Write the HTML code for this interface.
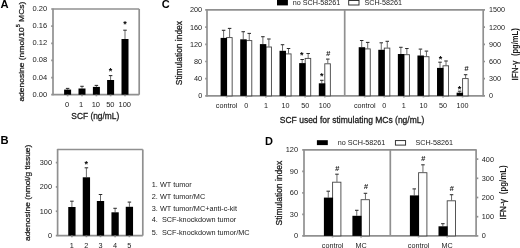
<!DOCTYPE html>
<html><head><meta charset="utf-8"><style>
html,body{margin:0;padding:0;background:#fff;}
svg{display:block;font-family:"Liberation Sans", sans-serif;-webkit-font-smoothing:antialiased;filter:grayscale(1);}
.t{stroke:#1a1a1a;stroke-width:0.28px;}
</style></head><body>
<svg width="520" height="248" viewBox="0 0 520 248">
<rect x="0" y="0" width="520" height="248" fill="#fff"/>
<text x="0.4" y="7.9" font-size="11.2" text-anchor="start" font-weight="bold" fill="#000">A</text>
<line x1="53.0" y1="9.0" x2="139.2" y2="9.0" stroke="#909090" stroke-width="1.7"/>
<line x1="139.2" y1="9.0" x2="139.2" y2="94.7" stroke="#909090" stroke-width="1.7"/>
<line x1="53.0" y1="8.4" x2="53.0" y2="95.3" stroke="#909090" stroke-width="1.7"/>
<line x1="53.0" y1="94.7" x2="139.2" y2="94.7" stroke="#909090" stroke-width="1.7"/>
<line x1="51.2" y1="94.7" x2="53.0" y2="94.7" stroke="#909090" stroke-width="1.7"/>
<text x="47.2" y="96.7" font-size="7.5" text-anchor="end" font-weight="normal" fill="#1a1a1a">0.00</text>
<line x1="51.2" y1="77.56" x2="53.0" y2="77.56" stroke="#909090" stroke-width="1.7"/>
<text x="47.2" y="79.56" font-size="7.5" text-anchor="end" font-weight="normal" fill="#1a1a1a">0.04</text>
<line x1="51.2" y1="60.42" x2="53.0" y2="60.42" stroke="#909090" stroke-width="1.7"/>
<text x="47.2" y="62.42" font-size="7.5" text-anchor="end" font-weight="normal" fill="#1a1a1a">0.08</text>
<line x1="51.2" y1="43.28" x2="53.0" y2="43.28" stroke="#909090" stroke-width="1.7"/>
<text x="47.2" y="45.28" font-size="7.5" text-anchor="end" font-weight="normal" fill="#1a1a1a">0.12</text>
<line x1="51.2" y1="26.14" x2="53.0" y2="26.14" stroke="#909090" stroke-width="1.7"/>
<text x="47.2" y="28.14" font-size="7.5" text-anchor="end" font-weight="normal" fill="#1a1a1a">0.16</text>
<line x1="51.2" y1="9.0" x2="53.0" y2="9.0" stroke="#909090" stroke-width="1.7"/>
<text x="47.2" y="11.0" font-size="7.5" text-anchor="end" font-weight="normal" fill="#1a1a1a">0.20</text>
<line x1="67.6" y1="89.6" x2="67.6" y2="88.7" stroke="#505050" stroke-width="0.85"/>
<line x1="65.85" y1="88.4" x2="69.35" y2="88.4" stroke="#2a2a2a" stroke-width="1.05"/>
<rect x="64.10" y="89.60" width="7.00" height="5.10" fill="#000"/>
<line x1="67.6" y1="94.7" x2="67.6" y2="96.3" stroke="#909090" stroke-width="1.7"/>
<line x1="82.0" y1="88.5" x2="82.0" y2="86.6" stroke="#505050" stroke-width="0.85"/>
<line x1="80.25" y1="86.3" x2="83.75" y2="86.3" stroke="#2a2a2a" stroke-width="1.05"/>
<rect x="78.50" y="88.50" width="7.00" height="6.20" fill="#000"/>
<line x1="82.0" y1="94.7" x2="82.0" y2="96.3" stroke="#909090" stroke-width="1.7"/>
<line x1="96.4" y1="86.9" x2="96.4" y2="85.7" stroke="#505050" stroke-width="0.85"/>
<line x1="94.65" y1="85.4" x2="98.15" y2="85.4" stroke="#2a2a2a" stroke-width="1.05"/>
<rect x="92.90" y="86.90" width="7.00" height="7.80" fill="#000"/>
<line x1="96.4" y1="94.7" x2="96.4" y2="96.3" stroke="#909090" stroke-width="1.7"/>
<line x1="110.6" y1="80.0" x2="110.6" y2="75.89999999999999" stroke="#505050" stroke-width="0.85"/>
<line x1="108.85" y1="75.6" x2="112.35" y2="75.6" stroke="#2a2a2a" stroke-width="1.05"/>
<rect x="107.10" y="80.00" width="7.00" height="14.70" fill="#000"/>
<line x1="110.6" y1="94.7" x2="110.6" y2="96.3" stroke="#909090" stroke-width="1.7"/>
<line x1="125.0" y1="39.0" x2="125.0" y2="30.5" stroke="#505050" stroke-width="0.85"/>
<line x1="123.25" y1="30.2" x2="126.75" y2="30.2" stroke="#2a2a2a" stroke-width="1.05"/>
<rect x="121.50" y="39.00" width="7.00" height="55.70" fill="#000"/>
<line x1="125.0" y1="94.7" x2="125.0" y2="96.3" stroke="#909090" stroke-width="1.7"/>
<text x="110.4" y="73.7" font-size="9.0" text-anchor="middle" font-weight="bold" fill="#000">*</text>
<text x="125.1" y="27.3" font-size="9.0" text-anchor="middle" font-weight="bold" fill="#000">*</text>
<text x="67.2" y="106.6" font-size="7.5" text-anchor="middle" font-weight="normal" fill="#1a1a1a">0</text>
<text x="81.0" y="106.6" font-size="7.5" text-anchor="middle" font-weight="normal" fill="#1a1a1a">1</text>
<text x="95.8" y="106.6" font-size="7.5" text-anchor="middle" font-weight="normal" fill="#1a1a1a">10</text>
<text x="110.3" y="106.6" font-size="7.5" text-anchor="middle" font-weight="normal" fill="#1a1a1a">50</text>
<text x="124.8" y="106.6" font-size="7.5" text-anchor="middle" font-weight="normal" fill="#1a1a1a">100</text>
<text x="95.3" y="118.5" font-size="8.4" text-anchor="middle" font-weight="normal" fill="#1a1a1a" class="t">SCF (ng/mL)</text>
<text class="t" transform="translate(24.3,51.65) rotate(-90) scale(1,0.9)" x="0" y="0" font-size="8.47" text-anchor="middle" font-weight="normal" fill="#1a1a1a">adenosine (nmol/10<tspan font-size="5.4" dy="-4.6">5</tspan><tspan dy="4.6"> MCs)</tspan></text>
<text x="0.6" y="144.1" font-size="11.2" text-anchor="start" font-weight="bold" fill="#000">B</text>
<line x1="57.6" y1="149.5" x2="142.8" y2="149.5" stroke="#909090" stroke-width="1.7"/>
<line x1="142.8" y1="149.5" x2="142.8" y2="235.6" stroke="#909090" stroke-width="1.7"/>
<line x1="57.6" y1="148.9" x2="57.6" y2="236.2" stroke="#909090" stroke-width="1.7"/>
<line x1="57.6" y1="235.6" x2="142.8" y2="235.6" stroke="#909090" stroke-width="1.7"/>
<line x1="55.800000000000004" y1="235.6" x2="57.6" y2="235.6" stroke="#909090" stroke-width="1.7"/>
<text x="52.0" y="238.1" font-size="7.3" text-anchor="end" font-weight="normal" fill="#1a1a1a">0</text>
<line x1="55.800000000000004" y1="211.26666666666665" x2="57.6" y2="211.26666666666665" stroke="#909090" stroke-width="1.7"/>
<text x="52.0" y="213.76666666666665" font-size="7.3" text-anchor="end" font-weight="normal" fill="#1a1a1a">100</text>
<line x1="55.800000000000004" y1="186.93333333333334" x2="57.6" y2="186.93333333333334" stroke="#909090" stroke-width="1.7"/>
<text x="52.0" y="189.43333333333334" font-size="7.3" text-anchor="end" font-weight="normal" fill="#1a1a1a">200</text>
<line x1="55.800000000000004" y1="162.6" x2="57.6" y2="162.6" stroke="#909090" stroke-width="1.7"/>
<text x="52.0" y="165.1" font-size="7.3" text-anchor="end" font-weight="normal" fill="#1a1a1a">300</text>
<line x1="71.9" y1="207.0" x2="71.9" y2="201.5" stroke="#505050" stroke-width="0.85"/>
<line x1="70.15" y1="201.2" x2="73.65" y2="201.2" stroke="#2a2a2a" stroke-width="1.05"/>
<rect x="68.25" y="207.00" width="7.30" height="28.60" fill="#000"/>
<line x1="71.9" y1="235.6" x2="71.9" y2="237.2" stroke="#909090" stroke-width="1.7"/>
<line x1="86.4" y1="177.3" x2="86.4" y2="168.10000000000002" stroke="#505050" stroke-width="0.85"/>
<line x1="84.65" y1="167.8" x2="88.15" y2="167.8" stroke="#2a2a2a" stroke-width="1.05"/>
<rect x="82.75" y="177.30" width="7.30" height="58.30" fill="#000"/>
<line x1="86.4" y1="235.6" x2="86.4" y2="237.2" stroke="#909090" stroke-width="1.7"/>
<line x1="100.5" y1="201.0" x2="100.5" y2="194.8" stroke="#505050" stroke-width="0.85"/>
<line x1="98.75" y1="194.5" x2="102.25" y2="194.5" stroke="#2a2a2a" stroke-width="1.05"/>
<rect x="96.85" y="201.00" width="7.30" height="34.60" fill="#000"/>
<line x1="100.5" y1="235.6" x2="100.5" y2="237.2" stroke="#909090" stroke-width="1.7"/>
<line x1="115.1" y1="212.3" x2="115.1" y2="208.60000000000002" stroke="#505050" stroke-width="0.85"/>
<line x1="113.35" y1="208.3" x2="116.85" y2="208.3" stroke="#2a2a2a" stroke-width="1.05"/>
<rect x="111.45" y="212.30" width="7.30" height="23.30" fill="#000"/>
<line x1="115.1" y1="235.6" x2="115.1" y2="237.2" stroke="#909090" stroke-width="1.7"/>
<line x1="129.4" y1="206.8" x2="129.4" y2="202.4" stroke="#505050" stroke-width="0.85"/>
<line x1="127.65" y1="202.1" x2="131.15" y2="202.1" stroke="#2a2a2a" stroke-width="1.05"/>
<rect x="125.75" y="206.80" width="7.30" height="28.80" fill="#000"/>
<line x1="129.4" y1="235.6" x2="129.4" y2="237.2" stroke="#909090" stroke-width="1.7"/>
<text x="86.3" y="166.9" font-size="9.0" text-anchor="middle" font-weight="bold" fill="#000">*</text>
<text x="71.9" y="247.6" font-size="7.3" text-anchor="middle" font-weight="normal" fill="#1a1a1a">1</text>
<text x="86.4" y="247.6" font-size="7.3" text-anchor="middle" font-weight="normal" fill="#1a1a1a">2</text>
<text x="100.5" y="247.6" font-size="7.3" text-anchor="middle" font-weight="normal" fill="#1a1a1a">3</text>
<text x="115.1" y="247.6" font-size="7.3" text-anchor="middle" font-weight="normal" fill="#1a1a1a">4</text>
<text x="129.4" y="247.6" font-size="7.3" text-anchor="middle" font-weight="normal" fill="#1a1a1a">5</text>
<text class="t" transform="translate(30.3,192.85) rotate(-90) scale(1,0.9)" x="0" y="0" font-size="8.42" text-anchor="middle" font-weight="normal" fill="#1a1a1a">adenosine (nmol/g tissue)</text>
<text x="151.8" y="186.79999999999998" font-size="7.3" text-anchor="start" font-weight="normal" fill="#1a1a1a">1. WT tumor</text>
<text x="151.8" y="198.9" font-size="7.3" text-anchor="start" font-weight="normal" fill="#1a1a1a">2. WT tumor/MC</text>
<text x="151.8" y="210.5" font-size="7.3" text-anchor="start" font-weight="normal" fill="#1a1a1a">3. WT tumor/MC+anti-c-kit</text>
<text x="151.8" y="222.29999999999998" font-size="7.3" text-anchor="start" font-weight="normal" fill="#1a1a1a">4.&#160;&#160;SCF-knockdown tumor</text>
<text x="151.8" y="235.2" font-size="7.3" text-anchor="start" font-weight="normal" fill="#1a1a1a">5.&#160;&#160;SCF-knockdown tumor/MC</text>
<text x="161.8" y="8.4" font-size="11.0" text-anchor="start" font-weight="bold" fill="#000">C</text>
<line x1="207.0" y1="9.9" x2="483.2" y2="9.9" stroke="#909090" stroke-width="1.7"/>
<line x1="344.7" y1="9.9" x2="344.7" y2="95.9" stroke="#909090" stroke-width="1.7"/>
<line x1="207.0" y1="9.3" x2="207.0" y2="96.5" stroke="#909090" stroke-width="1.7"/>
<line x1="483.2" y1="9.3" x2="483.2" y2="96.5" stroke="#909090" stroke-width="1.7"/>
<line x1="207.0" y1="95.9" x2="483.2" y2="95.9" stroke="#909090" stroke-width="1.7"/>
<line x1="205.2" y1="95.9" x2="207.0" y2="95.9" stroke="#909090" stroke-width="1.7"/>
<line x1="483.2" y1="95.9" x2="485.0" y2="95.9" stroke="#909090" stroke-width="1.7"/>
<text x="202.2" y="98.4" font-size="7.3" text-anchor="end" font-weight="normal" fill="#1a1a1a">0</text>
<text x="489.0" y="98.4" font-size="7.2" text-anchor="start" font-weight="normal" fill="#1a1a1a">0</text>
<line x1="205.2" y1="78.7" x2="207.0" y2="78.7" stroke="#909090" stroke-width="1.7"/>
<line x1="483.2" y1="78.7" x2="485.0" y2="78.7" stroke="#909090" stroke-width="1.7"/>
<text x="202.2" y="81.2" font-size="7.3" text-anchor="end" font-weight="normal" fill="#1a1a1a">40</text>
<text x="489.0" y="81.2" font-size="7.2" text-anchor="start" font-weight="normal" fill="#1a1a1a">300</text>
<line x1="205.2" y1="61.50000000000001" x2="207.0" y2="61.50000000000001" stroke="#909090" stroke-width="1.7"/>
<line x1="483.2" y1="61.50000000000001" x2="485.0" y2="61.50000000000001" stroke="#909090" stroke-width="1.7"/>
<text x="202.2" y="64.0" font-size="7.3" text-anchor="end" font-weight="normal" fill="#1a1a1a">80</text>
<text x="489.0" y="64.0" font-size="7.2" text-anchor="start" font-weight="normal" fill="#1a1a1a">600</text>
<line x1="205.2" y1="44.300000000000004" x2="207.0" y2="44.300000000000004" stroke="#909090" stroke-width="1.7"/>
<line x1="483.2" y1="44.300000000000004" x2="485.0" y2="44.300000000000004" stroke="#909090" stroke-width="1.7"/>
<text x="202.2" y="46.800000000000004" font-size="7.3" text-anchor="end" font-weight="normal" fill="#1a1a1a">120</text>
<text x="489.0" y="46.800000000000004" font-size="7.2" text-anchor="start" font-weight="normal" fill="#1a1a1a">900</text>
<line x1="205.2" y1="27.10000000000001" x2="207.0" y2="27.10000000000001" stroke="#909090" stroke-width="1.7"/>
<line x1="483.2" y1="27.10000000000001" x2="485.0" y2="27.10000000000001" stroke="#909090" stroke-width="1.7"/>
<text x="202.2" y="29.60000000000001" font-size="7.3" text-anchor="end" font-weight="normal" fill="#1a1a1a">160</text>
<text x="489.0" y="29.60000000000001" font-size="7.2" text-anchor="start" font-weight="normal" fill="#1a1a1a">1200</text>
<line x1="205.2" y1="9.900000000000006" x2="207.0" y2="9.900000000000006" stroke="#909090" stroke-width="1.7"/>
<line x1="483.2" y1="9.900000000000006" x2="485.0" y2="9.900000000000006" stroke="#909090" stroke-width="1.7"/>
<text x="202.2" y="12.400000000000006" font-size="7.3" text-anchor="end" font-weight="normal" fill="#1a1a1a">200</text>
<text x="489.0" y="12.400000000000006" font-size="7.2" text-anchor="start" font-weight="normal" fill="#1a1a1a">1500</text>
<rect x="277.00" y="0.00" width="10.90" height="5.40" fill="#000"/>
<text x="292.8" y="5.35" font-size="7.2" text-anchor="start" font-weight="normal" fill="#1a1a1a">no SCH-58261</text>
<rect x="348.70" y="0.50" width="10.30" height="4.50" fill="#fff" stroke="#222" stroke-width="0.9"/>
<text x="364.4" y="5.35" font-size="7.2" text-anchor="start" font-weight="normal" fill="#1a1a1a">SCH-58261</text>
<line x1="223.6" y1="37.9" x2="223.6" y2="30.6" stroke="#505050" stroke-width="0.85"/>
<line x1="221.85" y1="30.3" x2="225.35" y2="30.3" stroke="#2a2a2a" stroke-width="1.05"/>
<line x1="229.6" y1="37.3" x2="229.6" y2="28.7" stroke="#505050" stroke-width="0.85"/>
<line x1="227.85" y1="28.4" x2="231.35" y2="28.4" stroke="#2a2a2a" stroke-width="1.05"/>
<rect x="226.60" y="37.60" width="5.55" height="58.30" fill="#fff" stroke="#444" stroke-width="0.9"/>
<rect x="220.60" y="37.90" width="6.45" height="58.00" fill="#000"/>
<line x1="226.6" y1="95.9" x2="226.6" y2="97.4" stroke="#909090" stroke-width="1.7"/>
<line x1="243.24" y1="39.3" x2="243.24" y2="32.0" stroke="#505050" stroke-width="0.85"/>
<line x1="241.49" y1="31.7" x2="244.99" y2="31.7" stroke="#2a2a2a" stroke-width="1.05"/>
<line x1="249.24" y1="40.3" x2="249.24" y2="33.699999999999996" stroke="#505050" stroke-width="0.85"/>
<line x1="247.49" y1="33.4" x2="250.99" y2="33.4" stroke="#2a2a2a" stroke-width="1.05"/>
<rect x="246.24" y="40.60" width="5.55" height="55.30" fill="#fff" stroke="#444" stroke-width="0.9"/>
<rect x="240.24" y="39.30" width="6.45" height="56.60" fill="#000"/>
<line x1="246.24" y1="95.9" x2="246.24" y2="97.4" stroke="#909090" stroke-width="1.7"/>
<line x1="262.88" y1="44.1" x2="262.88" y2="37.0" stroke="#505050" stroke-width="0.85"/>
<line x1="261.13" y1="36.7" x2="264.63" y2="36.7" stroke="#2a2a2a" stroke-width="1.05"/>
<line x1="268.88" y1="46.7" x2="268.88" y2="39.3" stroke="#505050" stroke-width="0.85"/>
<line x1="267.13" y1="39.0" x2="270.63" y2="39.0" stroke="#2a2a2a" stroke-width="1.05"/>
<rect x="265.88" y="47.00" width="5.55" height="48.90" fill="#fff" stroke="#444" stroke-width="0.9"/>
<rect x="259.88" y="44.10" width="6.45" height="51.80" fill="#000"/>
<line x1="265.88" y1="95.9" x2="265.88" y2="97.4" stroke="#909090" stroke-width="1.7"/>
<line x1="282.52" y1="50.8" x2="282.52" y2="45.0" stroke="#505050" stroke-width="0.85"/>
<line x1="280.77" y1="44.7" x2="284.27" y2="44.7" stroke="#2a2a2a" stroke-width="1.05"/>
<line x1="288.52" y1="53.6" x2="288.52" y2="48.8" stroke="#505050" stroke-width="0.85"/>
<line x1="286.77" y1="48.5" x2="290.27" y2="48.5" stroke="#2a2a2a" stroke-width="1.05"/>
<rect x="285.52" y="53.90" width="5.55" height="42.00" fill="#fff" stroke="#444" stroke-width="0.9"/>
<rect x="279.52" y="50.80" width="6.45" height="45.10" fill="#000"/>
<line x1="285.52" y1="95.9" x2="285.52" y2="97.4" stroke="#909090" stroke-width="1.7"/>
<line x1="302.15999999999997" y1="63.1" x2="302.15999999999997" y2="59.8" stroke="#505050" stroke-width="0.85"/>
<line x1="300.40999999999997" y1="59.5" x2="303.90999999999997" y2="59.5" stroke="#2a2a2a" stroke-width="1.05"/>
<line x1="308.15999999999997" y1="58.1" x2="308.15999999999997" y2="53.8" stroke="#505050" stroke-width="0.85"/>
<line x1="306.40999999999997" y1="53.5" x2="309.90999999999997" y2="53.5" stroke="#2a2a2a" stroke-width="1.05"/>
<rect x="305.16" y="58.40" width="5.55" height="37.50" fill="#fff" stroke="#444" stroke-width="0.9"/>
<rect x="299.16" y="63.10" width="6.45" height="32.80" fill="#000"/>
<line x1="305.15999999999997" y1="95.9" x2="305.15999999999997" y2="97.4" stroke="#909090" stroke-width="1.7"/>
<line x1="321.8" y1="83.3" x2="321.8" y2="80.6" stroke="#505050" stroke-width="0.85"/>
<line x1="320.05" y1="80.3" x2="323.55" y2="80.3" stroke="#2a2a2a" stroke-width="1.05"/>
<line x1="327.8" y1="63.5" x2="327.8" y2="59.4" stroke="#505050" stroke-width="0.85"/>
<line x1="326.05" y1="59.1" x2="329.55" y2="59.1" stroke="#2a2a2a" stroke-width="1.05"/>
<rect x="324.80" y="63.80" width="5.55" height="32.10" fill="#fff" stroke="#444" stroke-width="0.9"/>
<rect x="318.80" y="83.30" width="6.45" height="12.60" fill="#000"/>
<line x1="324.8" y1="95.9" x2="324.8" y2="97.4" stroke="#909090" stroke-width="1.7"/>
<text x="226.6" y="107.8" font-size="7.2" text-anchor="middle" font-weight="normal" fill="#1a1a1a">control</text>
<text x="246.24" y="107.8" font-size="7.2" text-anchor="middle" font-weight="normal" fill="#1a1a1a">0</text>
<text x="265.88" y="107.8" font-size="7.2" text-anchor="middle" font-weight="normal" fill="#1a1a1a">1</text>
<text x="285.52" y="107.8" font-size="7.2" text-anchor="middle" font-weight="normal" fill="#1a1a1a">10</text>
<text x="305.15999999999997" y="107.8" font-size="7.2" text-anchor="middle" font-weight="normal" fill="#1a1a1a">50</text>
<text x="324.8" y="107.8" font-size="7.2" text-anchor="middle" font-weight="normal" fill="#1a1a1a">100</text>
<line x1="361.7" y1="47.2" x2="361.7" y2="40.8" stroke="#505050" stroke-width="0.85"/>
<line x1="359.95" y1="40.5" x2="363.45" y2="40.5" stroke="#2a2a2a" stroke-width="1.05"/>
<line x1="367.7" y1="48.6" x2="367.7" y2="42.699999999999996" stroke="#505050" stroke-width="0.85"/>
<line x1="365.95" y1="42.4" x2="369.45" y2="42.4" stroke="#2a2a2a" stroke-width="1.05"/>
<rect x="364.70" y="48.90" width="5.55" height="47.00" fill="#fff" stroke="#444" stroke-width="0.9"/>
<rect x="358.70" y="47.20" width="6.45" height="48.70" fill="#000"/>
<line x1="364.7" y1="95.9" x2="364.7" y2="97.4" stroke="#909090" stroke-width="1.7"/>
<line x1="381.28" y1="49.8" x2="381.28" y2="43.099999999999994" stroke="#505050" stroke-width="0.85"/>
<line x1="379.53" y1="42.8" x2="383.03" y2="42.8" stroke="#2a2a2a" stroke-width="1.05"/>
<line x1="387.28" y1="47.8" x2="387.28" y2="41.599999999999994" stroke="#505050" stroke-width="0.85"/>
<line x1="385.53" y1="41.3" x2="389.03" y2="41.3" stroke="#2a2a2a" stroke-width="1.05"/>
<rect x="384.28" y="48.10" width="5.55" height="47.80" fill="#fff" stroke="#444" stroke-width="0.9"/>
<rect x="378.28" y="49.80" width="6.45" height="46.10" fill="#000"/>
<line x1="384.28" y1="95.9" x2="384.28" y2="97.4" stroke="#909090" stroke-width="1.7"/>
<line x1="400.86" y1="54.0" x2="400.86" y2="47.599999999999994" stroke="#505050" stroke-width="0.85"/>
<line x1="399.11" y1="47.3" x2="402.61" y2="47.3" stroke="#2a2a2a" stroke-width="1.05"/>
<line x1="406.86" y1="54.4" x2="406.86" y2="48.8" stroke="#505050" stroke-width="0.85"/>
<line x1="405.11" y1="48.5" x2="408.61" y2="48.5" stroke="#2a2a2a" stroke-width="1.05"/>
<rect x="403.86" y="54.70" width="5.55" height="41.20" fill="#fff" stroke="#444" stroke-width="0.9"/>
<rect x="397.86" y="54.00" width="6.45" height="41.90" fill="#000"/>
<line x1="403.86" y1="95.9" x2="403.86" y2="97.4" stroke="#909090" stroke-width="1.7"/>
<line x1="420.44" y1="55.5" x2="420.44" y2="49.4" stroke="#505050" stroke-width="0.85"/>
<line x1="418.69" y1="49.1" x2="422.19" y2="49.1" stroke="#2a2a2a" stroke-width="1.05"/>
<line x1="426.44" y1="56.4" x2="426.44" y2="51.4" stroke="#505050" stroke-width="0.85"/>
<line x1="424.69" y1="51.1" x2="428.19" y2="51.1" stroke="#2a2a2a" stroke-width="1.05"/>
<rect x="423.44" y="56.70" width="5.55" height="39.20" fill="#fff" stroke="#444" stroke-width="0.9"/>
<rect x="417.44" y="55.50" width="6.45" height="40.40" fill="#000"/>
<line x1="423.44" y1="95.9" x2="423.44" y2="97.4" stroke="#909090" stroke-width="1.7"/>
<line x1="440.02" y1="67.9" x2="440.02" y2="62.5" stroke="#505050" stroke-width="0.85"/>
<line x1="438.27" y1="62.2" x2="441.77" y2="62.2" stroke="#2a2a2a" stroke-width="1.05"/>
<line x1="446.02" y1="65.5" x2="446.02" y2="61.3" stroke="#505050" stroke-width="0.85"/>
<line x1="444.27" y1="61.0" x2="447.77" y2="61.0" stroke="#2a2a2a" stroke-width="1.05"/>
<rect x="443.02" y="65.80" width="5.55" height="30.10" fill="#fff" stroke="#444" stroke-width="0.9"/>
<rect x="437.02" y="67.90" width="6.45" height="28.00" fill="#000"/>
<line x1="443.02" y1="95.9" x2="443.02" y2="97.4" stroke="#909090" stroke-width="1.7"/>
<line x1="459.59999999999997" y1="92.7" x2="459.59999999999997" y2="91.5" stroke="#505050" stroke-width="0.85"/>
<line x1="457.84999999999997" y1="91.2" x2="461.34999999999997" y2="91.2" stroke="#2a2a2a" stroke-width="1.05"/>
<line x1="465.59999999999997" y1="78.3" x2="465.59999999999997" y2="75.0" stroke="#505050" stroke-width="0.85"/>
<line x1="463.84999999999997" y1="74.7" x2="467.34999999999997" y2="74.7" stroke="#2a2a2a" stroke-width="1.05"/>
<rect x="462.60" y="78.60" width="5.55" height="17.30" fill="#fff" stroke="#444" stroke-width="0.9"/>
<rect x="456.60" y="92.70" width="6.45" height="3.20" fill="#000"/>
<line x1="462.59999999999997" y1="95.9" x2="462.59999999999997" y2="97.4" stroke="#909090" stroke-width="1.7"/>
<text x="364.7" y="107.8" font-size="7.2" text-anchor="middle" font-weight="normal" fill="#1a1a1a">control</text>
<text x="384.28" y="107.8" font-size="7.2" text-anchor="middle" font-weight="normal" fill="#1a1a1a">0</text>
<text x="403.86" y="107.8" font-size="7.2" text-anchor="middle" font-weight="normal" fill="#1a1a1a">1</text>
<text x="423.44" y="107.8" font-size="7.2" text-anchor="middle" font-weight="normal" fill="#1a1a1a">10</text>
<text x="443.02" y="107.8" font-size="7.2" text-anchor="middle" font-weight="normal" fill="#1a1a1a">50</text>
<text x="462.59999999999997" y="107.8" font-size="7.2" text-anchor="middle" font-weight="normal" fill="#1a1a1a">100</text>
<text x="301.7" y="57.5" font-size="9.0" text-anchor="middle" font-weight="bold" fill="#000">*</text>
<text x="321.8" y="79.3" font-size="9.0" text-anchor="middle" font-weight="bold" fill="#000">*</text>
<text x="328.2" y="55.92" font-size="7.7" text-anchor="middle" font-weight="bold" fill="#1a1a1a" font-style="italic">#</text>
<text x="440.4" y="61.5" font-size="9.0" text-anchor="middle" font-weight="bold" fill="#000">*</text>
<text x="459.4" y="91.5" font-size="9.0" text-anchor="middle" font-weight="bold" fill="#000">*</text>
<text x="466.3" y="71.22" font-size="7.7" text-anchor="middle" font-weight="bold" fill="#1a1a1a" font-style="italic">#</text>
<text x="279.8" y="122.7" font-size="8.5" text-anchor="start" font-weight="normal" fill="#1a1a1a" class="t">SCF used for stimulating MCs (ng/mL)</text>
<text class="t" transform="translate(181.7,53.1) rotate(-90) scale(1,1.0)" x="0" y="0" font-size="8.45" text-anchor="middle" font-weight="normal" fill="#1a1a1a">Stimulation index</text>
<text class="t" transform="translate(517.8,54.4) rotate(-90) scale(1,1.15)" x="0" y="0" font-size="8.15" text-anchor="middle" font-weight="normal" fill="#1a1a1a">IFN-&#947;&#160;&#160;<tspan font-weight="bold" font-size="7.6" style="stroke:none">(pg/mL)</tspan></text>
<text x="264.9" y="144.5" font-size="11.0" text-anchor="start" font-weight="bold" fill="#000">D</text>
<line x1="304.0" y1="149.8" x2="476.1" y2="149.8" stroke="#909090" stroke-width="1.7"/>
<line x1="390.3" y1="149.8" x2="390.3" y2="235.9" stroke="#909090" stroke-width="1.7"/>
<line x1="304.0" y1="149.20000000000002" x2="304.0" y2="236.5" stroke="#909090" stroke-width="1.7"/>
<line x1="476.1" y1="149.20000000000002" x2="476.1" y2="236.5" stroke="#909090" stroke-width="1.7"/>
<line x1="304.0" y1="235.9" x2="476.1" y2="235.9" stroke="#909090" stroke-width="1.7"/>
<line x1="302.2" y1="235.9" x2="304.0" y2="235.9" stroke="#909090" stroke-width="1.7"/>
<text x="298.0" y="238.45000000000002" font-size="7.4" text-anchor="end" font-weight="normal" fill="#1a1a1a">0</text>
<line x1="302.2" y1="214.375" x2="304.0" y2="214.375" stroke="#909090" stroke-width="1.7"/>
<text x="298.0" y="216.925" font-size="7.4" text-anchor="end" font-weight="normal" fill="#1a1a1a">30</text>
<line x1="302.2" y1="192.85000000000002" x2="304.0" y2="192.85000000000002" stroke="#909090" stroke-width="1.7"/>
<text x="298.0" y="195.40000000000003" font-size="7.4" text-anchor="end" font-weight="normal" fill="#1a1a1a">60</text>
<line x1="302.2" y1="171.32500000000002" x2="304.0" y2="171.32500000000002" stroke="#909090" stroke-width="1.7"/>
<text x="298.0" y="173.87500000000003" font-size="7.4" text-anchor="end" font-weight="normal" fill="#1a1a1a">90</text>
<line x1="302.2" y1="149.8" x2="304.0" y2="149.8" stroke="#909090" stroke-width="1.7"/>
<text x="298.0" y="152.35000000000002" font-size="7.4" text-anchor="end" font-weight="normal" fill="#1a1a1a">120</text>
<line x1="476.1" y1="235.9" x2="478.3" y2="235.9" stroke="#909090" stroke-width="1.7"/>
<text x="481.8" y="238.4" font-size="7.3" text-anchor="start" font-weight="normal" fill="#1a1a1a">0</text>
<line x1="476.1" y1="216.70000000000002" x2="478.3" y2="216.70000000000002" stroke="#909090" stroke-width="1.7"/>
<text x="481.8" y="219.20000000000002" font-size="7.3" text-anchor="start" font-weight="normal" fill="#1a1a1a">100</text>
<line x1="476.1" y1="197.5" x2="478.3" y2="197.5" stroke="#909090" stroke-width="1.7"/>
<text x="481.8" y="200.0" font-size="7.3" text-anchor="start" font-weight="normal" fill="#1a1a1a">200</text>
<line x1="476.1" y1="178.3" x2="478.3" y2="178.3" stroke="#909090" stroke-width="1.7"/>
<text x="481.8" y="180.8" font-size="7.3" text-anchor="start" font-weight="normal" fill="#1a1a1a">300</text>
<line x1="476.1" y1="159.10000000000002" x2="478.3" y2="159.10000000000002" stroke="#909090" stroke-width="1.7"/>
<text x="481.8" y="161.60000000000002" font-size="7.3" text-anchor="start" font-weight="normal" fill="#1a1a1a">400</text>
<rect x="316.90" y="140.20" width="10.90" height="4.90" fill="#000"/>
<text x="337.8" y="145.4" font-size="7.2" text-anchor="start" font-weight="normal" fill="#1a1a1a">no SCH-58261</text>
<rect x="395.40" y="140.60" width="10.20" height="4.50" fill="#fff" stroke="#222" stroke-width="0.9"/>
<text x="415.4" y="145.4" font-size="7.2" text-anchor="start" font-weight="normal" fill="#1a1a1a">SCH-58261</text>
<line x1="328.25" y1="197.6" x2="328.25" y2="191.5" stroke="#505050" stroke-width="0.85"/>
<line x1="326.5" y1="191.2" x2="330.0" y2="191.2" stroke="#2a2a2a" stroke-width="1.05"/>
<line x1="336.95000000000005" y1="181.9" x2="336.95000000000005" y2="174.5" stroke="#505050" stroke-width="0.85"/>
<line x1="335.20000000000005" y1="174.2" x2="338.70000000000005" y2="174.2" stroke="#2a2a2a" stroke-width="1.05"/>
<rect x="332.60" y="182.20" width="8.30" height="53.70" fill="#fff" stroke="#444" stroke-width="0.9"/>
<rect x="323.90" y="197.60" width="9.15" height="38.30" fill="#000"/>
<line x1="332.6" y1="235.9" x2="332.6" y2="237.4" stroke="#909090" stroke-width="1.7"/>
<line x1="356.75" y1="215.8" x2="356.75" y2="210.60000000000002" stroke="#505050" stroke-width="0.85"/>
<line x1="355.0" y1="210.3" x2="358.5" y2="210.3" stroke="#2a2a2a" stroke-width="1.05"/>
<line x1="365.45000000000005" y1="199.4" x2="365.45000000000005" y2="193.60000000000002" stroke="#505050" stroke-width="0.85"/>
<line x1="363.70000000000005" y1="193.3" x2="367.20000000000005" y2="193.3" stroke="#2a2a2a" stroke-width="1.05"/>
<rect x="361.10" y="199.70" width="8.30" height="36.20" fill="#fff" stroke="#444" stroke-width="0.9"/>
<rect x="352.40" y="215.80" width="9.15" height="20.10" fill="#000"/>
<line x1="361.1" y1="235.9" x2="361.1" y2="237.4" stroke="#909090" stroke-width="1.7"/>
<line x1="414.25" y1="195.4" x2="414.25" y2="189.20000000000002" stroke="#505050" stroke-width="0.85"/>
<line x1="412.5" y1="188.9" x2="416.0" y2="188.9" stroke="#2a2a2a" stroke-width="1.05"/>
<line x1="422.95000000000005" y1="172.4" x2="422.95000000000005" y2="165.10000000000002" stroke="#505050" stroke-width="0.85"/>
<line x1="421.20000000000005" y1="164.8" x2="424.70000000000005" y2="164.8" stroke="#2a2a2a" stroke-width="1.05"/>
<rect x="418.60" y="172.70" width="8.30" height="63.20" fill="#fff" stroke="#444" stroke-width="0.9"/>
<rect x="409.90" y="195.40" width="9.15" height="40.50" fill="#000"/>
<line x1="418.6" y1="235.9" x2="418.6" y2="237.4" stroke="#909090" stroke-width="1.7"/>
<line x1="442.84999999999997" y1="226.3" x2="442.84999999999997" y2="224.0" stroke="#505050" stroke-width="0.85"/>
<line x1="441.09999999999997" y1="223.7" x2="444.59999999999997" y2="223.7" stroke="#2a2a2a" stroke-width="1.05"/>
<line x1="451.55" y1="200.5" x2="451.55" y2="195.0" stroke="#505050" stroke-width="0.85"/>
<line x1="449.8" y1="194.7" x2="453.3" y2="194.7" stroke="#2a2a2a" stroke-width="1.05"/>
<rect x="447.20" y="200.80" width="8.30" height="35.10" fill="#fff" stroke="#444" stroke-width="0.9"/>
<rect x="438.50" y="226.30" width="9.15" height="9.60" fill="#000"/>
<line x1="447.2" y1="235.9" x2="447.2" y2="237.4" stroke="#909090" stroke-width="1.7"/>
<text x="332.6" y="247.5" font-size="7.2" text-anchor="middle" font-weight="normal" fill="#1a1a1a">control</text>
<text x="361.1" y="247.5" font-size="7.2" text-anchor="middle" font-weight="normal" fill="#1a1a1a">MC</text>
<text x="418.6" y="247.5" font-size="7.2" text-anchor="middle" font-weight="normal" fill="#1a1a1a">control</text>
<text x="447.2" y="247.5" font-size="7.2" text-anchor="middle" font-weight="normal" fill="#1a1a1a">MC</text>
<text x="337.2" y="170.62" font-size="7.7" text-anchor="middle" font-weight="bold" fill="#1a1a1a" font-style="italic">#</text>
<text x="365.8" y="189.42" font-size="7.7" text-anchor="middle" font-weight="bold" fill="#1a1a1a" font-style="italic">#</text>
<text x="423.2" y="160.62" font-size="7.7" text-anchor="middle" font-weight="bold" fill="#1a1a1a" font-style="italic">#</text>
<text x="451.6" y="191.12" font-size="7.7" text-anchor="middle" font-weight="bold" fill="#1a1a1a" font-style="italic">#</text>
<text class="t" transform="translate(282.0,193.1) rotate(-90) scale(1,1.0)" x="0" y="0" font-size="8.5" text-anchor="middle" font-weight="normal" fill="#1a1a1a">Stimulation index</text>
<text class="t" transform="translate(506.3,192.5) rotate(-90) scale(1,1.12)" x="0" y="0" font-size="8.5" text-anchor="middle" font-weight="normal" fill="#1a1a1a">IFN-&#947;&#160;&#160;<tspan font-weight="bold" font-size="7.9" style="stroke:none">(pg/mL)</tspan></text>
</svg>
</body></html>
